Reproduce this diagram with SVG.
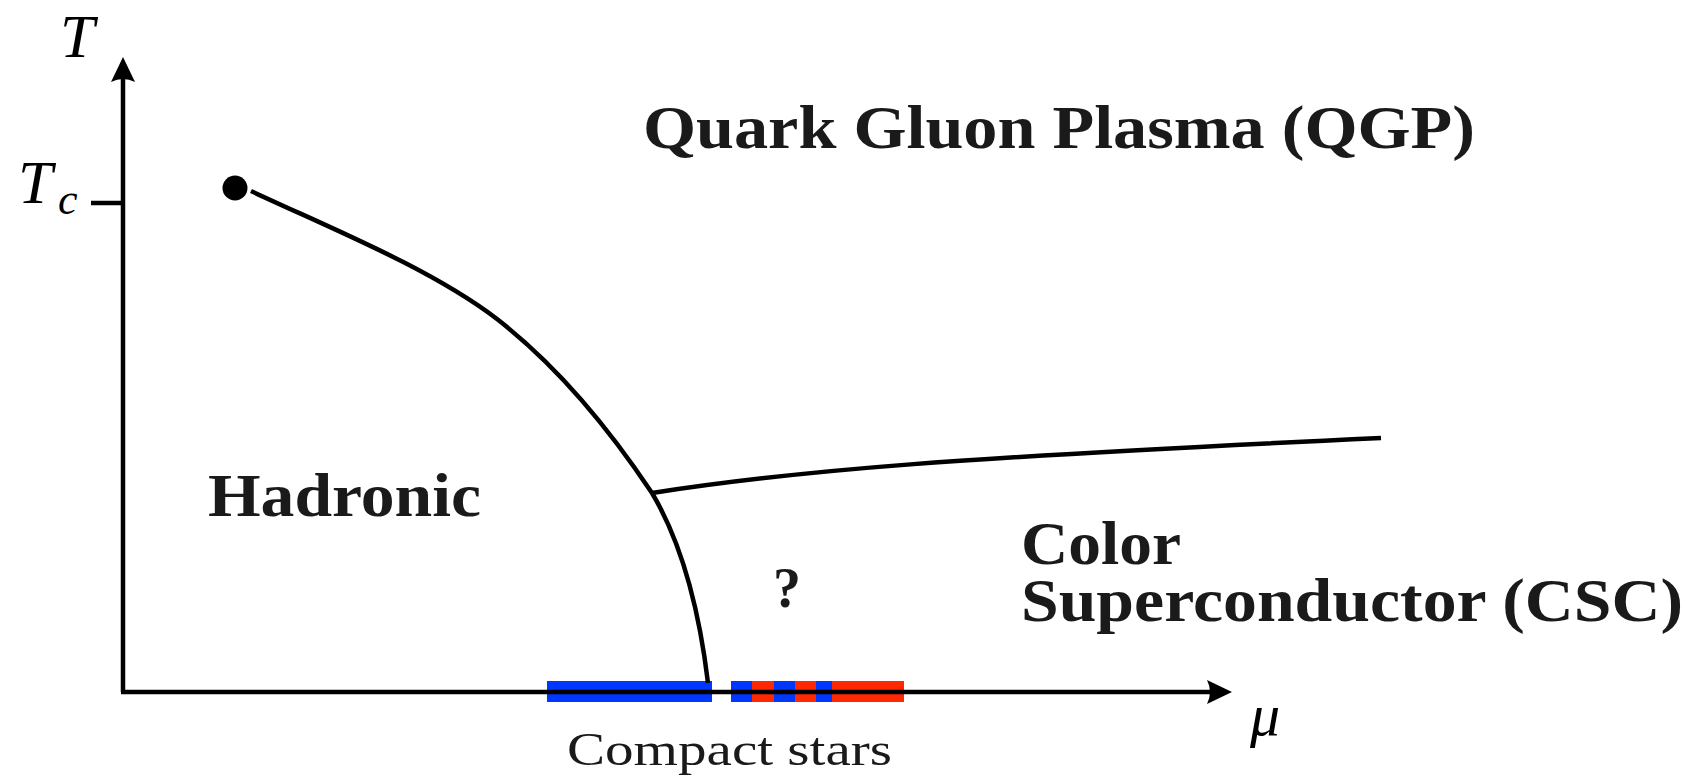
<svg xmlns="http://www.w3.org/2000/svg" width="1694" height="781" viewBox="0 0 1694 781">
<style>
.ln{fill:none;stroke:#000;stroke-width:4.5}
.lbl{font-family:"Liberation Serif",serif;font-weight:bold;fill:#1a1a1a}
.math{font-family:"Liberation Serif",serif;font-style:italic;fill:#000}
.blue{fill:#0037ff}
.red{fill:#ff2800}
</style>
<rect width="1694" height="781" fill="#fff"/>
<g id="bars">
<rect class="blue" x="547" y="681" width="165" height="21"/>
<rect class="blue" x="731" y="681" width="21" height="21"/>
<rect class="red" x="752" y="681" width="22" height="21"/>
<rect class="blue" x="774" y="681" width="21" height="21"/>
<rect class="red" x="795" y="681" width="21" height="21"/>
<rect class="blue" x="816" y="681" width="16" height="21"/>
<rect class="red" x="832" y="681" width="72" height="21"/>
</g>
<g id="axes">
<line class="ln" x1="123" y1="75" x2="123" y2="692"/>
<line class="ln" x1="121" y1="692" x2="1215" y2="692"/>
<path d="M123,57 L135,82 Q123,76 111,82 Z" fill="#000"/>
<path d="M1232,692 L1207,680 Q1213,692 1207,704 Z" fill="#000"/>
<line class="ln" x1="91" y1="203" x2="123" y2="203"/>
</g>
<g id="connectors">
<path class="ln" d="M251,191 C 330,228 430,268 497,319 C 560,368 610,430 652,493 C 680,540 698,600 708,683"/>
<path class="ln" d="M652,493 C 800,470 950,458 1381,438"/>
</g>
<g id="critical-point"><circle cx="235" cy="188" r="12.5" fill="#000"/></g>
<g id="labels">
<text class="math" x="60" y="57" font-size="62">T</text>
<text class="math" x="18" y="203" font-size="62">T</text>
<text class="math" x="58" y="214" font-size="44">c</text>
<text class="math" x="1250" y="735" font-size="60">μ</text>
<text class="lbl" x="643" y="148" font-size="62" textLength="832" lengthAdjust="spacingAndGlyphs">Quark Gluon Plasma (QGP)</text>
<text class="lbl" x="208" y="516" font-size="62" textLength="273" lengthAdjust="spacingAndGlyphs">Hadronic</text>
<text class="lbl" x="1021" y="564" font-size="62" textLength="160" lengthAdjust="spacingAndGlyphs">Color</text>
<text class="lbl" x="1021" y="621" font-size="62" textLength="662" lengthAdjust="spacingAndGlyphs">Superconductor (CSC)</text>
<text class="lbl" x="773" y="607" font-size="56">?</text>
<text x="567" y="765" font-size="46" font-family="Liberation Serif,serif" fill="#1a1a1a" textLength="325" lengthAdjust="spacingAndGlyphs">Compact stars</text>
</g>
</svg>
